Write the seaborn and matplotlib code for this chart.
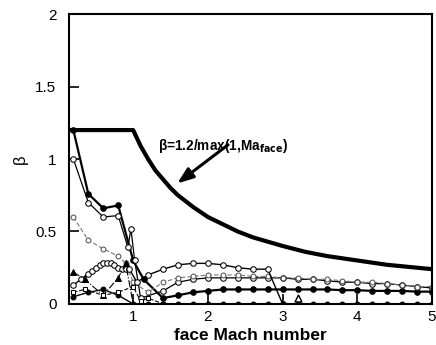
import matplotlib
matplotlib.use("Agg")
import matplotlib.pyplot as plt
import seaborn as sns

# envelope curve beta = 1.2/max(1, Ma)
env_x = [0.14, 1.0, 1.1, 1.2, 1.3, 1.4, 1.5, 1.6, 1.8, 2.0, 2.2, 2.4, 2.6, 2.8, 3.0, 3.3, 3.6, 4.0, 4.4, 4.7, 5.0]
env_y = [1.2, 1.2, 1.09, 1.0, 0.92, 0.86, 0.8, 0.75, 0.67, 0.6, 0.55, 0.5, 0.46, 0.43, 0.4, 0.36, 0.33, 0.3, 0.27, 0.255, 0.24]

tail_x = [2.0, 2.2, 2.4, 2.6, 2.8, 3.0, 3.2, 3.4, 3.6, 3.8, 4.0, 4.2, 4.4, 4.6, 4.8, 5.0]

s1_x = [0.2, 0.4, 0.6, 0.8, 1.0, 1.14, 1.4, 1.6, 1.8] + tail_x
s1_y = [1.2, 0.76, 0.66, 0.68, 0.30, 0.17, 0.04, 0.06, 0.08,
        0.09, 0.10, 0.10, 0.10, 0.10, 0.10, 0.10, 0.10, 0.10, 0.095, 0.095, 0.09, 0.09, 0.09, 0.085, 0.085]

s2_x = [0.2, 0.4, 0.6, 0.8, 0.93, 0.97, 1.02, 1.1, 1.4, 1.6, 1.8] + tail_x
s2_y = [1.0, 0.70, 0.60, 0.61, 0.39, 0.52, 0.30, 0.04, 0.09, 0.15, 0.17,
        0.18, 0.18, 0.18, 0.18, 0.18, 0.18, 0.17, 0.17, 0.16, 0.15, 0.15, 0.14, 0.14, 0.13, 0.12, 0.11]

s3_x = [0.2, 0.4, 0.6, 0.8, 0.9, 1.0, 1.2, 1.4, 1.6, 1.8] + tail_x
s3_y = [0.6, 0.44, 0.38, 0.33, 0.28, 0.15, 0.08, 0.15, 0.18, 0.19,
        0.20, 0.20, 0.20, 0.19, 0.19, 0.18, 0.18, 0.17, 0.17, 0.16, 0.15, 0.15, 0.14, 0.13, 0.12, 0.12]

s4_x = [0.2, 0.3, 0.4, 0.45, 0.5, 0.55, 0.6, 0.65, 0.7, 0.75, 0.8, 0.85, 0.9, 0.95, 1.05,
        1.2, 1.4, 1.6, 1.8, 2.0, 2.2, 2.4, 2.6, 2.8, 3.0]
s4_y = [0.13, 0.17, 0.21, 0.23, 0.25, 0.27, 0.28, 0.285, 0.28, 0.27, 0.25, 0.24, 0.24, 0.24, 0.15,
        0.20, 0.24, 0.27, 0.28, 0.28, 0.27, 0.25, 0.24, 0.24, 0.0]

s5_x = [0.2, 0.4, 0.6, 0.8, 1.0, 1.2, 1.4, 1.6, 1.8] + tail_x
s5_y = [0.05, 0.08, 0.10, 0.06, 0.0, 0.0, 0.0, 0.0, 0.0,
        0.0, 0.0, 0.0, 0.0, 0.0, 0.0, 0.0, 0.0, 0.0, 0.0, 0.0, 0.0, 0.0, 0.0, 0.0, 0.0]

s6_x = [0.2, 0.35, 0.6, 0.8, 0.9, 1.0]
s6_y = [0.22, 0.17, 0.06, 0.18, 0.28, 0.0]

s7_x = [0.2, 0.35, 0.6, 0.8, 1.0, 1.1, 1.2, 1.4]
s7_y = [0.08, 0.10, 0.06, 0.08, 0.12, 0.02, 0.04, 0.0]

s8_x = [3.2]
s8_y = [0.04]

x_ticks = [1, 2, 3, 4, 5]
y_ticks = [0, 0.5, 1, 1.5, 2]
y_tick_labels = ["0", "0.5", "1", "1.5", "2"]

sns.set_theme(style="ticks")
plt.rcParams["font.family"] = ["Liberation Sans", "DejaVu Sans"]
plt.rcParams["text.color"] = "black"
plt.rcParams["axes.labelcolor"] = "black"

fig = plt.figure(figsize=(4.36, 3.45), dpi=100)
ax = fig.add_axes([0.158, 0.119, 0.833, 0.840])

def draw(x, y, **kw):
    sns.lineplot(x=x, y=y, ax=ax, sort=False, estimator=None, legend=False, **kw)

draw(env_x, env_y, color="black", linewidth=3.0)
draw(s1_x, s1_y, color="black", linewidth=1.6, marker="o", markersize=4,
     markerfacecolor="black", markeredgecolor="black")
draw(s2_x, s2_y, color="black", linewidth=0.9, marker="o", markersize=4,
     markerfacecolor="white", markeredgecolor="black")
draw(s3_x, s3_y, color="#777777", linewidth=0.8, linestyle=(0, (4, 2)), marker="o",
     markersize=3.5, markerfacecolor="white", markeredgecolor="#555555")
draw(s4_x, s4_y, color="black", linewidth=1.0, marker="o", markersize=4,
     markerfacecolor="white", markeredgecolor="black")
draw(s5_x, s5_y, color="black", linewidth=1.0, marker="o", markersize=3.5,
     markerfacecolor="black", markeredgecolor="black")
draw(s6_x, s6_y, color="black", linewidth=0.8, linestyle="-.", marker="^", markersize=5,
     markerfacecolor="black", markeredgecolor="black")
draw(s7_x, s7_y, color="black", linewidth=0.8, linestyle="--", marker="s", markersize=3,
     markerfacecolor="white", markeredgecolor="black")
sns.scatterplot(x=s8_x, y=s8_y, ax=ax, marker="^", s=25, facecolor="white",
                edgecolor="black", linewidth=1.0, legend=False, zorder=5)

ax.set_xlim(0.14, 5)
ax.set_ylim(0, 2)
ax.set_xticks(x_ticks)
ax.set_xticklabels([str(v) for v in x_ticks])
ax.set_yticks(y_ticks)
ax.set_yticklabels(y_tick_labels)
ax.tick_params(direction="in", length=7, width=1.2, labelsize=11, colors="black")
ax.tick_params(axis="y", pad=9)
ax.tick_params(axis="x", pad=4)
for sp in ax.spines.values():
    sp.set_visible(True)
    sp.set_linewidth(1.5)
    sp.set_color("black")

ax.set_xlabel("face Mach number", fontsize=12.5, fontweight="bold", labelpad=3, color="black")
ax.set_ylabel("β", fontsize=12, labelpad=5, color="black")

ax.annotate("", xy=(1.56, 0.82), xytext=(2.3, 1.11),
            arrowprops=dict(arrowstyle="-|>,head_length=0.8,head_width=0.3", color="black", lw=2.2))
ax.text(1.33, 1.09, r"β=1.2/max(1,Ma$_{\mathbf{face}}$)", fontsize=9.8, fontweight="bold",
        va="center", ha="left", color="black")

fig.savefig("out.png", dpi=100)
